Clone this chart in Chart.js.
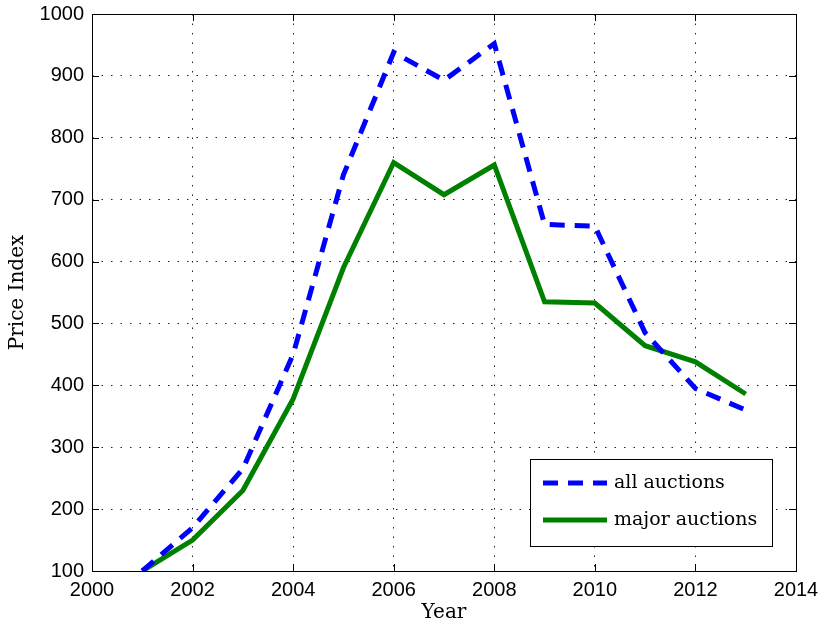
<!DOCTYPE html>
<html>
<head>
<meta charset="utf-8">
<script src="https://cdn.jsdelivr.net/npm/chart.js@4"></script>
<style>
  html, body { margin: 0; padding: 0; background: #fff; }
  #wrap { width: 818px; height: 627px; }
</style>
</head>
<body>
<div id="wrap"><canvas id="chart-price" width="818" height="627"></canvas></div>
<script>
const years = [2001, 2002, 2003, 2004, 2005, 2006, 2007, 2008, 2009, 2010, 2011, 2012, 2013];
const allAuctions = [100, 170, 265, 450, 740, 938, 893, 952, 660, 657, 485, 395, 360];
const majorAuctions = [100, 150, 230, 378, 590, 760, 708, 756, 535, 533, 464, 438, 386];
const seriesLabels = ["all auctions", "major auctions"];

const sansFont = "'Liberation Sans', Arial, sans-serif";
const serifFont = "'DejaVu Serif', serif";

// box around the plot, ticks pointing inward, legend inside the axes
const boxPlugin = {
  id: "box",
  afterDraw(chart) {
    const ctx = chart.ctx;
    const a = chart.chartArea;
    const xs = chart.scales.x, ys = chart.scales.y;
    ctx.save();
    ctx.strokeStyle = "#000";
    ctx.lineWidth = 1;
    ctx.setLineDash([]);
    ctx.strokeRect(a.left + 0.5, a.top + 0.5, a.right - a.left, a.bottom - a.top);
    ctx.beginPath();
    xs.ticks.forEach(t => {
      const px = Math.round(xs.getPixelForValue(t.value)) + 0.5;
      ctx.moveTo(px, a.bottom); ctx.lineTo(px, a.bottom - 7);
      ctx.moveTo(px, a.top); ctx.lineTo(px, a.top + 7);
    });
    ys.ticks.forEach(t => {
      const py = Math.round(ys.getPixelForValue(t.value)) + 0.5;
      ctx.moveTo(a.left, py); ctx.lineTo(a.left + 7, py);
      ctx.moveTo(a.right, py); ctx.lineTo(a.right - 7, py);
    });
    ctx.stroke();

    // legend
    const lx = 530, ly = 459, lw = 242, lh = 87;
    ctx.fillStyle = "#fff";
    ctx.fillRect(lx, ly, lw, lh);
    ctx.strokeRect(lx + 0.5, ly + 0.5, lw, lh);
    chart.data.datasets.forEach((ds, i) => {
      const y = ly + 24 + i * 37;
      ctx.strokeStyle = ds.borderColor;
      ctx.lineWidth = ds.borderWidth;
      ctx.setLineDash(ds.borderDash || []);
      ctx.beginPath();
      ctx.moveTo(lx + 13, y); ctx.lineTo(lx + 77, y);
      ctx.stroke();
      ctx.setLineDash([]);
      ctx.fillStyle = "#000";
      ctx.font = "19px " + serifFont;
      ctx.textBaseline = "middle";
      ctx.fillText(ds.label, lx + 84, y);
    });
    ctx.restore();
  }
};

new Chart(document.getElementById("chart-price"), {
  type: "line",
  data: {
    datasets: [{
      label: seriesLabels[0],
      data: years.map((y, i) => ({ x: y, y: allAuctions[i] })),
      borderColor: "#0000ff",
      borderWidth: 5,
      borderDash: [15, 10],
      pointRadius: 0,
      fill: false,
      tension: 0
    }, {
      label: seriesLabels[1],
      data: years.map((y, i) => ({ x: y, y: majorAuctions[i] })),
      borderColor: "#008000",
      borderWidth: 5,
      pointRadius: 0,
      fill: false,
      tension: 0
    }]
  },
  options: {
    responsive: false,
    animation: false,
    layout: { padding: { top: 14, right: 22, left: 0, bottom: 0 } },
    plugins: {
      legend: { display: false },
      tooltip: { enabled: false }
    },
    scales: {
      x: {
        type: "linear",
        min: 2000,
        max: 2014,
        ticks: {
          stepSize: 2,
          color: "#000",
          font: { family: sansFont, size: 20 },
          padding: 7,
          callback: v => String(v)
        },
        grid: { color: "#222", drawTicks: false, lineWidth: 1 },
        border: { display: false, dash: [1.5, 8] },
        title: {
          display: true,
          text: "Year",
          color: "#000",
          font: { family: serifFont, size: 20 },
          padding: { top: 0, bottom: 2 }
        },
        afterFit(scale) {
          scale.height = 56;
          scale.paddingLeft = 0;
          scale.paddingRight = 0;
        }
      },
      y: {
        min: 100,
        max: 1000,
        ticks: {
          stepSize: 100,
          color: "#000",
          font: { family: sansFont, size: 20 },
          padding: 8,
          callback: v => String(v)
        },
        grid: { color: "#222", drawTicks: false, lineWidth: 1 },
        border: { display: false, dash: [1.5, 8] },
        title: {
          display: true,
          text: "Price Index",
          color: "#000",
          font: { family: serifFont, size: 20 },
          padding: { top: 6, bottom: 0 }
        },
        afterFit(scale) {
          scale.width = 92;
          scale.paddingTop = 0;
          scale.paddingBottom = 0;
        }
      }
    }
  },
  plugins: [boxPlugin]
});
</script>
</body>
</html>
